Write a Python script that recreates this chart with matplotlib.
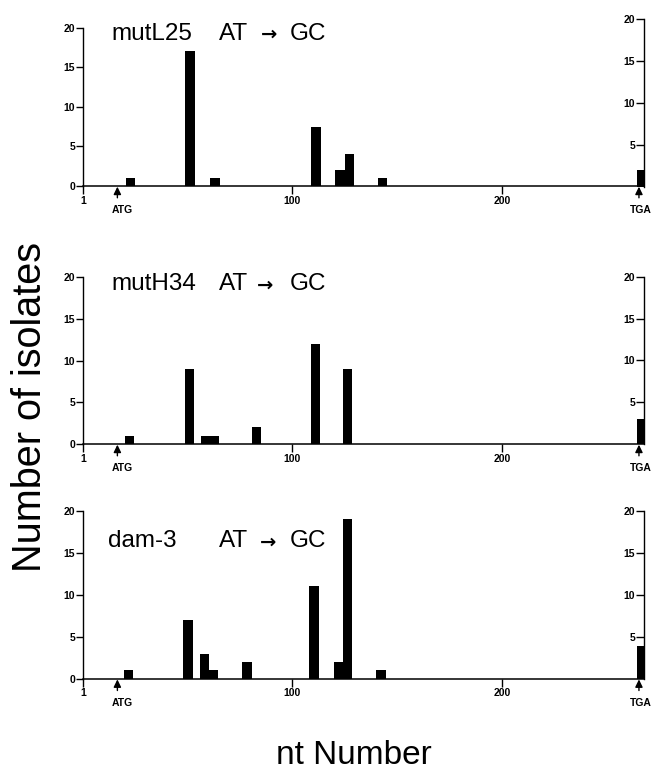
import matplotlib
matplotlib.use("Agg")
import matplotlib.pyplot as plt

plt.rcParams['font.family'] = ['Liberation Sans', 'DejaVu Sans']

# figure size in pixels
W, H = 654, 773

# nucleotide positions and number of isolates
pos_mutL25 = [23.4, 51.7, 63.6, 111.6, 123.1, 127.4, 143.2]
cnt_mutL25 = [1, 17, 1, 7.5, 2, 4, 1]

pos_mutH34 = [22.9, 51.5, 59.1, 63.1, 83.2, 111.3, 126.7]
cnt_mutH34 = [1, 9, 1, 1, 2, 12, 9]

pos_dam3 = [22.4, 50.8, 58.5, 63.0, 78.7, 110.6, 122.2, 126.7, 142.6]
cnt_dam3 = [1, 7, 3, 1, 2, 11, 2, 19, 1]

# isolates at the stop codon (drawn against the right-hand axis)
tga_counts = [2, 3, 4]

strains = ['mutL25', 'mutH34', 'dam-3']
positions = [pos_mutL25, pos_mutH34, pos_dam3]
counts = [cnt_mutL25, cnt_mutH34, cnt_dam3]

atg_pos = 17.2
tga_pos = 266
x_ticks = [1, 100, 200]
y_ticks = [0, 5, 10, 15, 20]
y_ticks_right = [5, 10, 15, 20]

# pixel geometry of the panels: (top of left axis, baseline, top of right axis, baseline right)
left_px, right_px = 83.3, 644
panel_px = [(27.7, 186, 19, 186.7), (277.3, 444, 276.7, 444), (510.7, 678.7, 510.7, 679.3)]
title_px = [(111, 40, 269, 34), (111, 290, 265, 285), (108, 546.7, 268.5, 542)]


def rect(top, bot):
    return [left_px / W, 1 - bot / H, (right_px - left_px) / W, (bot - top) / H]


fig = plt.figure(figsize=(W / 100, H / 100), dpi=100)
tick_font = dict(fontsize=7.5, fontweight='bold')

for i in range(3):
    top, bot, rtop, rbot = panel_px[i]
    ax = fig.add_axes(rect(top, bot))
    ax.bar(positions[i], counts[i], width=4.5, color='black')
    ax.set_xlim(1, 267.5)
    ax.set_ylim(0, 20)
    ax.spines['top'].set_visible(False)
    ax.spines['right'].set_visible(False)
    ax.spines['left'].set_linewidth(1.0)
    ax.spines['bottom'].set_linewidth(1.1)
    ax.set_xticks(x_ticks)
    ax.set_xticklabels([str(t) for t in x_ticks], **tick_font)
    ax.set_yticks(y_ticks)
    ax.set_yticklabels([str(t) for t in y_ticks], **tick_font)
    ax.tick_params(axis='x', direction='out', length=6, width=1, pad=1)
    ax.tick_params(axis='y', direction='out', length=5, width=1, pad=1)

    # start codon arrow
    ax.annotate('', xy=(atg_pos, 0), xytext=(0, -8.5), textcoords='offset points',
                arrowprops=dict(arrowstyle='-|>,head_length=0.45,head_width=0.22',
                                color='black', lw=1, shrinkA=0, shrinkB=0.5),
                annotation_clip=False)
    ax.annotate('ATG', xy=(atg_pos + 2.1, 0), xytext=(0, -17.5), textcoords='offset points',
                ha='center', va='center', fontsize=7.5, fontweight='bold', annotation_clip=False)

    # right-hand axis with the stop codon bar
    ax_r = fig.add_axes(rect(rtop, rbot))
    ax_r.patch.set_alpha(0)
    ax_r.set_xlim(1, 267.5)
    ax_r.set_ylim(0, 20)
    ax_r.bar([tga_pos], [tga_counts[i]], width=3.8, color='black')
    for s in ['left', 'top', 'bottom']:
        ax_r.spines[s].set_visible(False)
    ax_r.spines['right'].set_linewidth(1.0)
    ax_r.xaxis.set_visible(False)
    ax_r.yaxis.tick_right()
    ax_r.set_yticks(y_ticks_right)
    ax_r.set_yticklabels([str(t) for t in y_ticks_right], **tick_font)
    ax_r.tick_params(axis='y', direction='in', length=5.8, width=1, pad=-6.3)
    for t in ax_r.yaxis.get_major_ticks():
        t.label2.set_horizontalalignment('right')

    ax.annotate('', xy=(tga_pos - 0.9, 0), xytext=(0, -8.5), textcoords='offset points',
                arrowprops=dict(arrowstyle='-|>,head_length=0.45,head_width=0.22',
                                color='black', lw=1, shrinkA=0, shrinkB=0.5),
                annotation_clip=False)
    ax.annotate('TGA', xy=(tga_pos, 0), xytext=(0, -17.5), textcoords='offset points',
                ha='center', va='center', fontsize=7.5, fontweight='bold', annotation_clip=False)

    # panel title
    tx, ty, arx, ary = title_px[i]
    fig.text(tx / W, 1 - ty / H, strains[i], fontsize=17.5, va='baseline', ha='left')
    fig.text(219 / W, 1 - ty / H, 'AT', fontsize=17.5, va='baseline', ha='left')
    fig.text(arx / W, 1 - ary / H, '→', fontsize=14, fontweight='bold',
             family=['DejaVu Sans'], va='center', ha='center')
    fig.text(290 / W, 1 - ty / H, 'GC', fontsize=17.5, va='baseline', ha='left')

fig.text(30 / W, 1 - 407 / H, 'Number of isolates', fontsize=28.5, rotation=90,
         ha='center', va='center')
fig.text(354 / W, 1 - 764 / H, 'nt Number', fontsize=24, ha='center', va='baseline')

fig.savefig('out.png', dpi=100)
